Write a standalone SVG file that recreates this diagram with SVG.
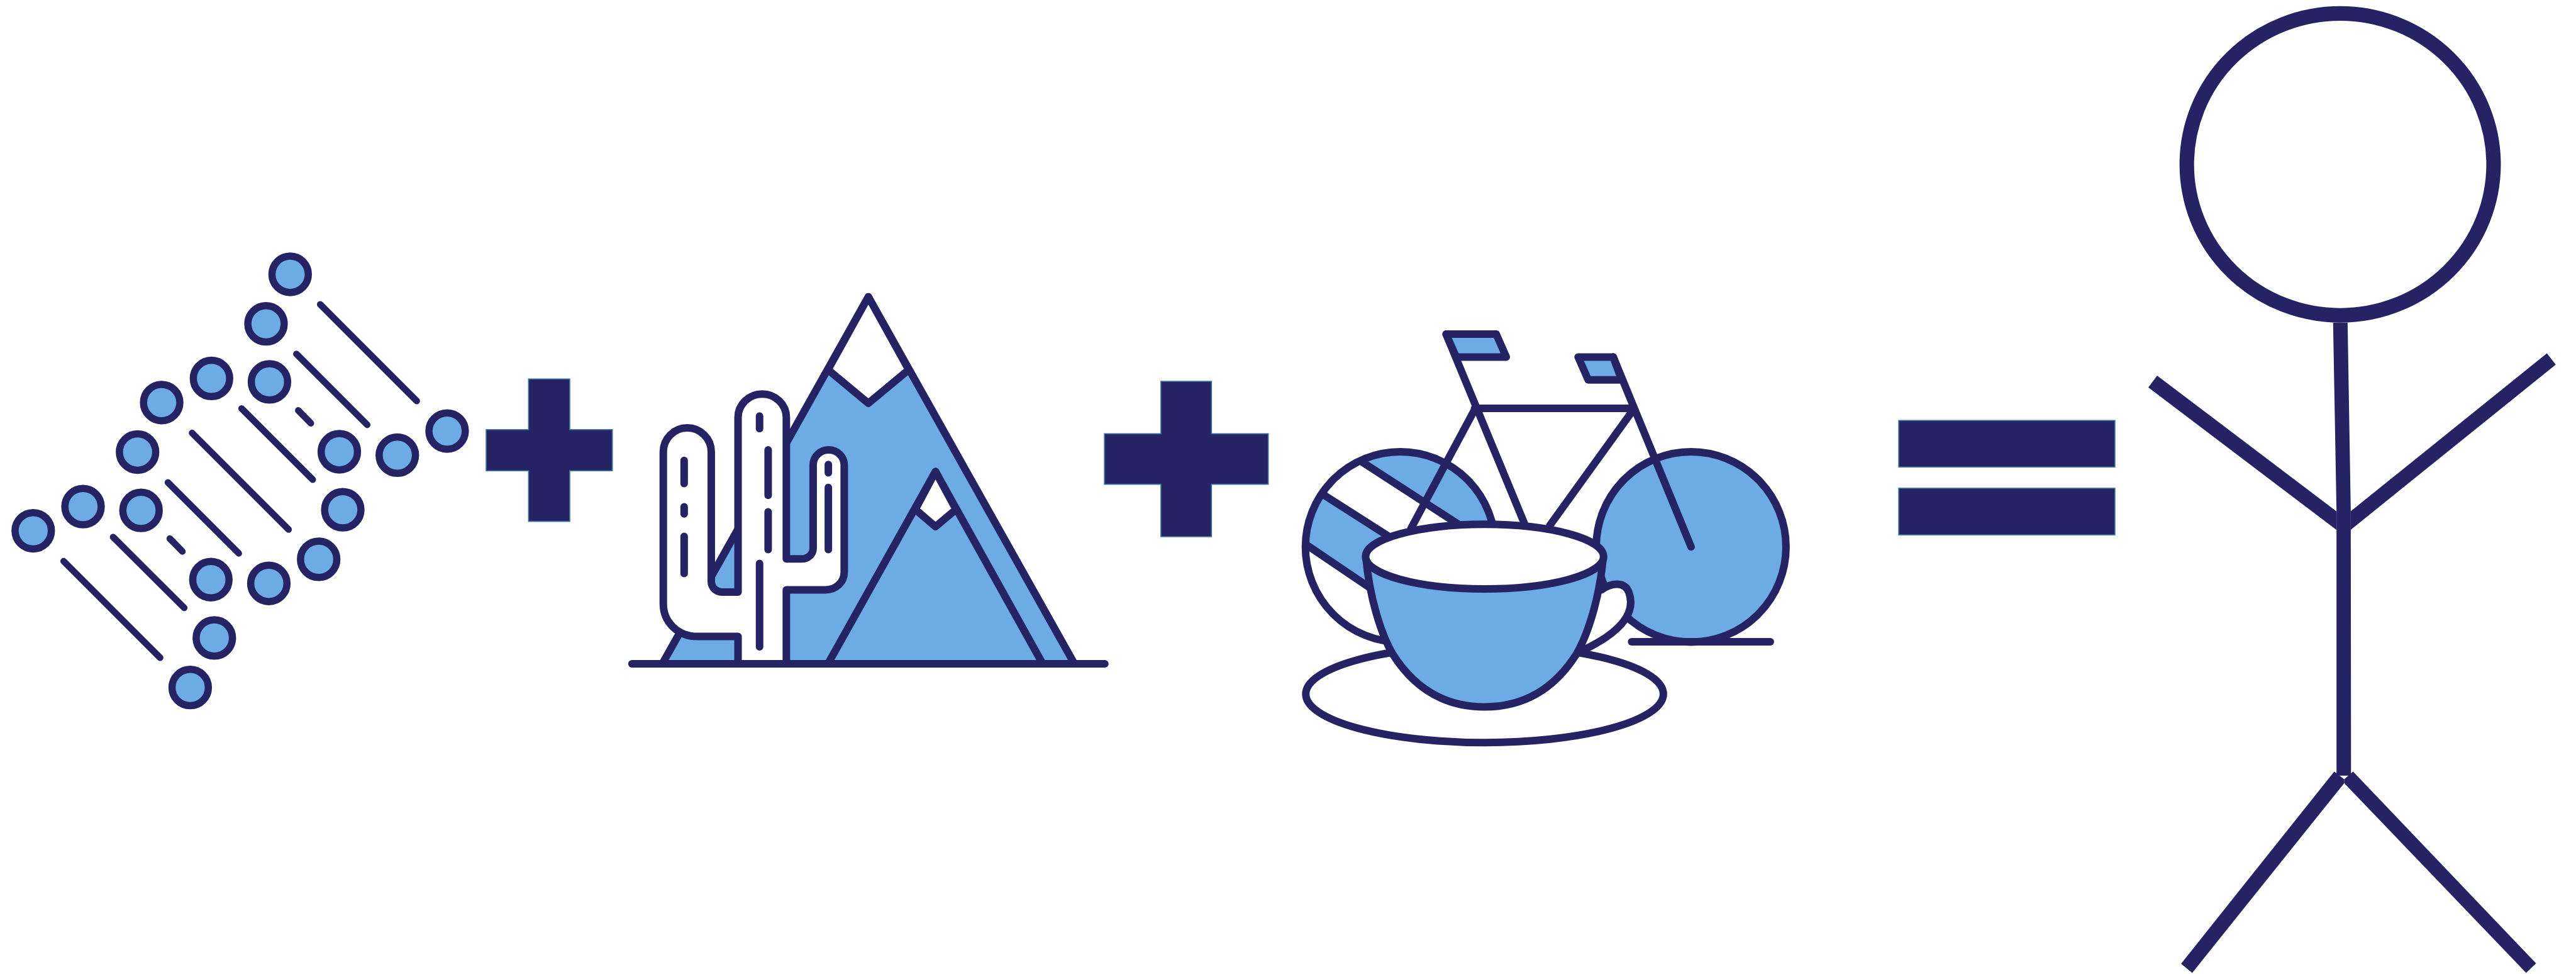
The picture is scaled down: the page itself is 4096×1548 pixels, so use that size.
<svg xmlns="http://www.w3.org/2000/svg" width="4096" height="1548" viewBox="0 0 4096 1548">
<style>
.s{stroke:#252363;stroke-linecap:round;stroke-linejoin:round;vector-effect:non-scaling-stroke;stroke-width:12}
.t{stroke-width:10.5}
.c{stroke-width:11.5}
.b{fill:#6cabe4}
.w{fill:#fff}
.n{fill:none}
.o{fill:#252363;stroke:#3f6f9f;stroke-width:2}
.f{fill:#252363}
</style>
<defs>
<clipPath id="wheelClip"><ellipse cx="368" cy="825" rx="284" ry="333"/></clipPath>
</defs>
<rect width="4096" height="1548" fill="#fff"/>
<g id="dna" transform="translate(0,373.23) scale(.49821)">
<path class="s t n" d="M1022,222L1330,530M946,380L1172,606M952,560L992,601M771,554L998,781M613,632L921,940M536,790L762,1016M542,969L582,1010M361,964L588,1190M203,1041L511,1349"/>
<g>
<circle class="s c b" cx="926" cy="126" r="58"/><circle class="s c b" cx="849" cy="284" r="58"/><circle class="s c b" cx="860" cy="469" r="58"/><circle class="s c b" cx="675" cy="458" r="58"/><circle class="s c b" cx="516" cy="535" r="58"/><circle class="s c b" cx="439" cy="693" r="58"/><circle class="s c b" cx="265" cy="867" r="58"/><circle class="s c b" cx="450" cy="879" r="58"/><circle class="s c b" cx="106" cy="944" r="58"/><circle class="s c b" cx="1427" cy="626" r="58"/><circle class="s c b" cx="1268" cy="703" r="58"/><circle class="s c b" cx="1083" cy="692" r="58"/><circle class="s c b" cx="1094" cy="877" r="58"/><circle class="s c b" cx="1017" cy="1035" r="58"/><circle class="s c b" cx="858" cy="1112" r="58"/><circle class="s c b" cx="673" cy="1100" r="58"/><circle class="s c b" cx="684" cy="1286" r="58"/><circle class="s c b" cx="607" cy="1444" r="58"/>
</g>
</g>
<g id="operators" transform="scale(.86798)">
<path id="plus1" class="o" d="M968.3,694H1043.7V786.7H1121.7V862H1043.7V954.7H968.3V862H890.7V786.7H968.3Z"/>
<path id="plus2" class="o" d="M2126.7,698.3H2219.3V794.3H2323.3V886.7H2219.3V982.7H2126.7V886.7H2023.3V794.3H2126.7Z"/>
<g id="equals"><rect class="o" x="3478.3" y="770" width="396" height="85"/><rect class="o" x="3478.3" y="894" width="396" height="85.3"/></g>
</g>
<g id="cactus-mountains" transform="translate(954.78,433.99) scale(.52589,.42069)">
<path class="s b" d="M810,90L1433,1476H187Z"/>
<path class="s w" d="M810,90L688,365L810,492L932,365Z"/>
<path class="s b" d="M1013,750L1337,1476H688Z"/>
<path class="s w" d="M1013,750L952,893L1013,958L1075,893Z"/>
<path class="s w" d="M190,675A72.5,90 0 0 1 335,675V1165C335,1188 350,1205 367,1205H416V545A73,88 0 0 1 562,545V1080H608C628,1080 643,1062 643,1040V725A47,57 0 0 1 737,725V1130C737,1168 712,1197 680,1197H562V1476H416V1373H295C235,1373 190,1320 190,1250Z"/>
<path class="s n" d="M253,708V795M253,883V910M253,995V1135M481,540V588M507,668V840M507,902V1045M481,1097V1412M689,723V755M689,810V1045"/>
<path class="s n" d="M95,1476H1525"/>
</g>
<g id="bike-and-cup" transform="translate(2031.07,494.75) scale(.53142,.45392)">
<ellipse class="w" cx="368" cy="825" rx="284" ry="333"/>
<g clip-path="url(#wheelClip)">
<path class="b" d="M250,525L600,790H800V300H100Z"/>
<path class="b" d="M135,640L400,838V1060L90,820L40,700Z"/>
</g>
<ellipse class="s n" cx="368" cy="825" rx="284" ry="333"/>
<path class="s n" d="M250,525L600,790M135,640L400,838M90,820L330,1010"/>
<ellipse class="s b" cx="1238" cy="825" rx="284" ry="333"/>
<path class="s n" d="M1060,1157H1475"/>
<path class="s n" d="M590,340H1065M505,80L740,745M590,345L400,760M1065,345L815,750M1005,160L1238,825"/>
<path class="s b" d="M505,80H655L685,160H535Z"/>
<path class="s b" d="M900,160H1005L1030,240H930Z"/>
<ellipse class="s w" cx="620" cy="1340" rx="535" ry="170"/>
<path class="s w" d="M900,1000L970,975C1000,950 1040,945 1052,985C1075,1060 1020,1130 905,1192L840,1100Z"/>
<path class="s b" d="M265,860C275,1000 310,1130 345,1200C410,1320 500,1385 620,1385C740,1385 830,1320 895,1200C930,1130 965,1000 975,860Z"/>
<ellipse class="s w" cx="620" cy="859" rx="356" ry="113"/>
</g>
<g id="stick-figure" transform="scale(.86798)">
<ellipse cx="4287" cy="301" rx="281" ry="276.4" fill="none" stroke="#252363" stroke-width="26.6"/>
<path class="f" d="M4274,591H4300.6L4306.4,936V970L4306.9,1420.2H4280.3V970V936Z"/>
<path class="f" d="M3951.7,687.7L4280.3,936.4V970.4L3935.5,709.5Z"/>
<path class="f" d="M4665.7,647L4306.4,936V970L4681.9,667.6Z"/>
<path class="f" d="M4276.1,1412.7L4294.4,1427V1434L4016,1781.3L3995.6,1764.6Z"/>
<path class="f" d="M4310.6,1412.7L4645.9,1764L4627.6,1781.3L4294.4,1434V1427Z"/>
</g>
</svg>
